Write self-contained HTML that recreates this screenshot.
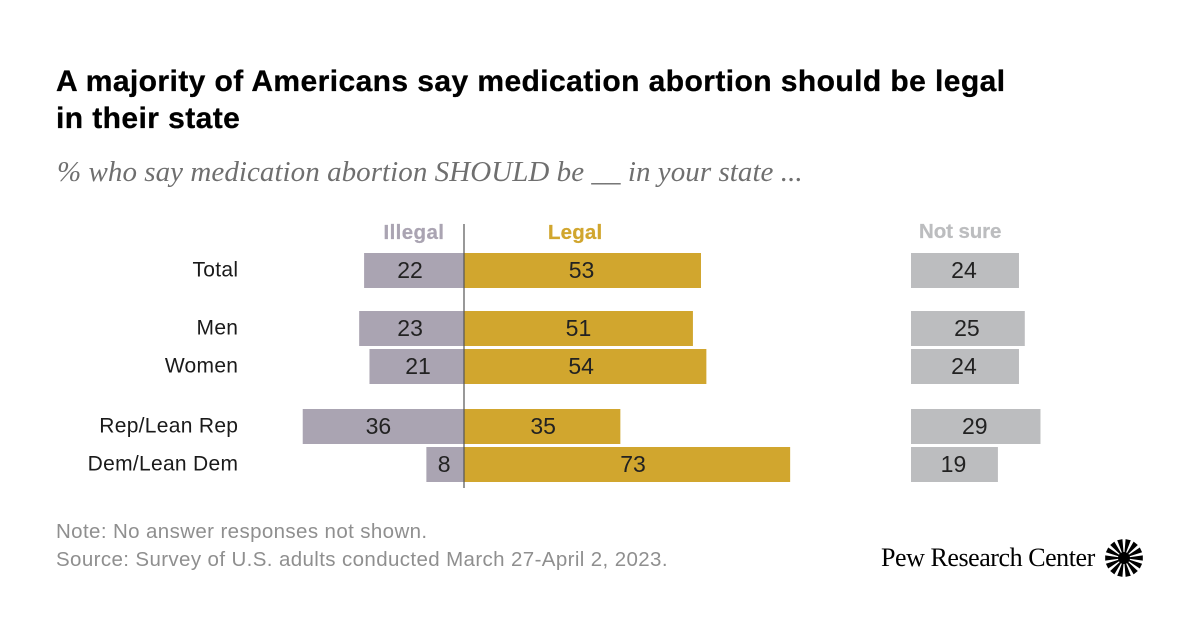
<!DOCTYPE html>
<html lang="en">
<head>
<meta charset="utf-8">
<title>Medication abortion views</title>
<style>
html,body{margin:0;padding:0;background:#fff}
#page{position:relative;width:1200px;height:628px;overflow:hidden;background:#fff;font-family:"Liberation Sans",sans-serif}
#title{position:absolute;left:56px;top:63px;margin:0;font-size:30px;line-height:37px;font-weight:700;color:#000;letter-spacing:.42px;-webkit-text-stroke:.3px #000;white-space:nowrap}
#subtitle{position:absolute;left:57px;top:156px;font-family:"Liberation Serif",serif;font-style:italic;font-size:29px;line-height:32px;color:#6f6f6f;letter-spacing:.05px;white-space:nowrap}
#note{position:absolute;left:56px;top:518px;font-size:20.5px;line-height:28px;color:#8f8f8f;letter-spacing:.38px;white-space:nowrap}
#brand{position:absolute;left:881px;top:542px;font-family:"Liberation Serif",serif;font-size:26px;line-height:32px;color:#000;letter-spacing:-.45px;white-space:nowrap}
svg{position:absolute;left:0;top:0}
</style>
</head>
<body>
<div id="page">
<h1 id="title">A majority of Americans say medication abortion should be legal<br>in their state</h1>
<div id="subtitle">% who say medication abortion SHOULD be __ in your state ...</div>
<svg id="chart" width="1200" height="628"></svg>
<div id="note">Note: No answer responses not shown.<br>Source: Survey of U.S. adults conducted March 27-April 2, 2023.</div>
<div id="brand">Pew Research Center</div>
</div>
<script>
const categories = ["Total", "Men", "Women", "Rep/Lean Rep", "Dem/Lean Dem"];
const illegalValues = [22.3, 23.4, 21.1, 36.0, 8.4];
const legalValues = [52.9, 51.1, 54.1, 34.9, 72.8];
const notSureValues = [24.1, 25.4, 24.1, 28.9, 19.4];
const seriesNames = ["Illegal", "Legal", "Not sure"];

const NS = "http://www.w3.org/2000/svg";
const svg = document.getElementById("chart");
const UNIT = 4.48;
const BASE_X = 464;
const NOT_SURE_X = 911;
const BAR_H = 35;
const rowTops = [253, 311, 349, 409, 447];
const illegalLabelNudge = [-4, -1.5, 1.3, -5, -1];
const legalLabelNudge = [-1, 0, -4, 1, 6];

function scaleLen(v) { return v * UNIT; }

function make(tag, attrs) {
  const el = document.createElementNS(NS, tag);
  for (const k in attrs) el.setAttribute(k, attrs[k]);
  svg.appendChild(el);
  return el;
}

function label(x, y, str, size, fill, anchor, weight, spacing) {
  const t = make("text", {
    x: x, y: y, "font-size": size, fill: fill, "text-anchor": anchor,
    "font-weight": weight || "400", "font-family": '"Liberation Sans", sans-serif',
    "letter-spacing": spacing || 0
  });
  t.textContent = str;
  return t;
}

function valueLabel(x, y, v) {
  return label(x, y, Math.round(v), 23, "#222", "middle", "400", 0);
}

function headerLabel(x, y, str, fill, anchor, spacing) {
  const t = label(x, y, str, 20.5, fill, anchor, "700", spacing);
  t.setAttribute("stroke", fill);
  t.setAttribute("stroke-width", "0.25");
  return t;
}

function drawRow(cat, i) {
  const y = rowTops[i];
  const cy = y + BAR_H / 2;

  const catLabel = label(238.3, cy + 6, cat, 21, "#1a1a1a", "end", "400", 0.3);
  
  

  const illW = scaleLen(illegalValues[i]);
  const ill = make("rect", { x: BASE_X - illW, y: y, width: illW, height: BAR_H, fill: "#aaa4b2" });
  
  
  const illVal = valueLabel(BASE_X - illW / 2 + illegalLabelNudge[i], cy + 7.5, illegalValues[i]);
  
  

  const legW = scaleLen(legalValues[i]);
  const leg = make("rect", { x: BASE_X, y: y, width: legW, height: BAR_H, fill: "#d1a62e" });
  
  
  const legVal = valueLabel(BASE_X + legW / 2 + legalLabelNudge[i], cy + 7.5, legalValues[i]);
  
  

  const nsW = scaleLen(notSureValues[i]);
  const nsBar = make("rect", { x: NOT_SURE_X, y: y, width: nsW, height: BAR_H, fill: "#bcbdbf" });
  
  
  const nsVal = valueLabel(NOT_SURE_X + nsW / 2 - 1, cy + 7.5, notSureValues[i]);
  
  
}

categories.forEach(drawRow);

const axis = make("line", { x1: BASE_X, x2: BASE_X, y1: 224, y2: 488, stroke: "#555", "stroke-width": 1.2 });



const h1 = headerLabel(444.4, 239, seriesNames[0], "#aaa4b2", "end", 0.4);


const h2 = headerLabel(548, 239, seriesNames[1], "#d1a62e", "start", 0.15);


const h3 = headerLabel(919, 238, seriesNames[2], "#bcbdbf", "start", -0.1);



const logo = document.createElementNS(NS, "g");


svg.appendChild(logo);
const LOGO_X = 1124, LOGO_Y = 558, LOGO_R = 19, RAY_COUNT = 14;
for (let a = 0; a < RAY_COUNT; a++) {
  const th = a * 2 * Math.PI / RAY_COUNT;
  const half = 0.14;
  const ray = document.createElementNS(NS, "polygon");
  const pts = [
    [LOGO_X + LOGO_R * Math.cos(th - half), LOGO_Y + LOGO_R * Math.sin(th - half)],
    [LOGO_X + LOGO_R * Math.cos(th + half), LOGO_Y + LOGO_R * Math.sin(th + half)],
    [LOGO_X, LOGO_Y]
  ];
  ray.setAttribute("points", pts.map(function (p) { return p.join(","); }).join(" "));
  ray.setAttribute("fill", "#000");
  logo.appendChild(ray);
}
const hub = document.createElementNS(NS, "circle");
hub.setAttribute("cx", LOGO_X);
hub.setAttribute("cy", LOGO_Y);
hub.setAttribute("r", 6);
hub.setAttribute("fill", "#000");
logo.appendChild(hub);
</script>
</body>
</html>
